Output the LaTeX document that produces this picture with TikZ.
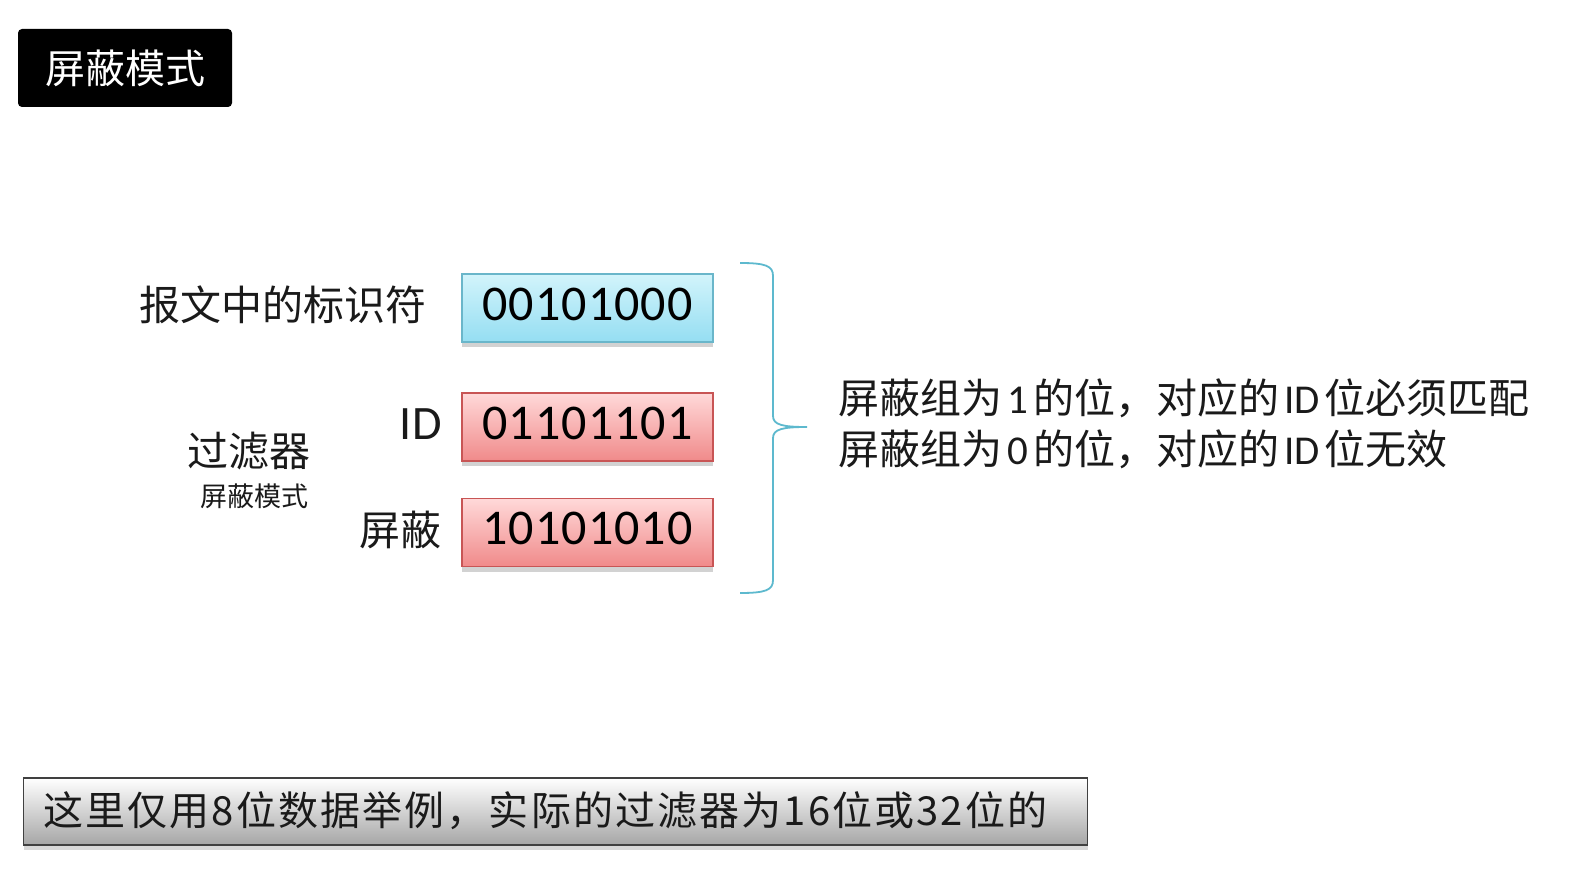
\documentclass[tikz,border=0pt]{standalone}
\usepackage{fontspec}
\setmainfont{Noto Sans CJK SC}
\newfontfamily\latfont{Carlito}
\usetikzlibrary{shadows,positioning}
\definecolor{bluetop}{HTML}{D2F4FB}
\definecolor{bluebot}{HTML}{95DEF2}
\definecolor{blueline}{HTML}{6AB6CA}
\definecolor{redtop}{HTML}{FFD9D9}
\definecolor{redbot}{HTML}{F08A8A}
\definecolor{redline}{HTML}{C85555}
\definecolor{bracecol}{HTML}{5DB9CE}
\definecolor{textgray}{HTML}{1A1A1A}
\newcommand{\lat}[1]{\hspace{2.5pt}{\latfont #1}\hspace{2.5pt}}

\begin{document}
\begin{tikzpicture}[x=0.5pt,y=-0.5pt,
  bitbox/.style={draw,line width=0.8pt,minimum width=125.5pt,minimum height=34pt,inner sep=0pt,
    text depth=4pt,font=\fontsize{25}{28}\selectfont\latfont\addfontfeature{LetterSpace=2.2},
    drop shadow={shadow xshift=0pt,shadow yshift=-2.5pt,opacity=0.35}},
  bluebox/.style={bitbox,draw=blueline,top color=bluetop,bottom color=bluebot},
  redbox/.style={bitbox,draw=redline,top color=redtop,bottom color=redbot},
  lbl/.style={font=\fontsize{20.5}{24}\selectfont,text=textgray,inner sep=0pt}]
  % fondo y tamaño
  \fill[white] (0,0) rectangle (1593,876);

  % titulo
  \node[fill=black,rounded corners=2pt,minimum width=107pt,minimum height=39pt,
    text=white,font=\fontsize{20}{24}\selectfont] (titulo) at (125,68) {屏蔽模式};

  % registros de 8 bits
  \node[bluebox] (ident) at (587.5,308) {00101000};
  \node[redbox] (idbox) at (587.5,427) {01101101};
  \node[redbox] (mascara) at (587.5,532.5) {10101010};

  % etiquetas
  \node[lbl,anchor=east] (lident) at (427,305) {报文中的标识符};
  \node[lbl,anchor=east,font=\fontsize{24}{28}\selectfont\latfont] (lid) at (442,424) {ID};
  \node[lbl,anchor=east] (lmask) at (442,530) {屏蔽};
  \node[lbl] (filtro) at (249,451) {过滤器};
  \node[lbl,font=\fontsize{13.5}{16}\selectfont] (modo) at (254,496) {屏蔽模式};

  % llave
  \draw[bracecol,line width=0.9pt] (740,263) .. controls (766,263) and (773,266) .. (773,276)
    -- (773,416) .. controls (773,425) and (783,427) .. (807,427)
    .. controls (783,427) and (773,429) .. (773,438)
    -- (773,580) .. controls (773,590) and (766,593) .. (740,593);

  % explicacion
  \node[lbl,anchor=west] (regla1) at (838,398) {屏蔽组为\lat{1}的位，对应的\lat{ID}位必须匹配};
  \node[lbl,anchor=west] (regla2) at (838,449) {屏蔽组为\lat{0}的位，对应的\lat{ID}位无效};

  % nota inferior
  \node[draw=black!75,line width=0.8pt,top color=white,bottom color=black!35,
    minimum width=532pt,minimum height=33.5pt,inner sep=0pt,
    drop shadow={shadow xshift=0pt,shadow yshift=-2.5pt,opacity=0.3}] (nota) at (555.5,811.5) {};
  \node[lbl,anchor=west,font=\fontsize{20}{24}\selectfont\addfontfeature{LetterSpace=5.3}] (notatxt) at (43,811) {这里仅用8位数据举例，实际的过滤器为16位或32位的};
\end{tikzpicture}
\end{document}
